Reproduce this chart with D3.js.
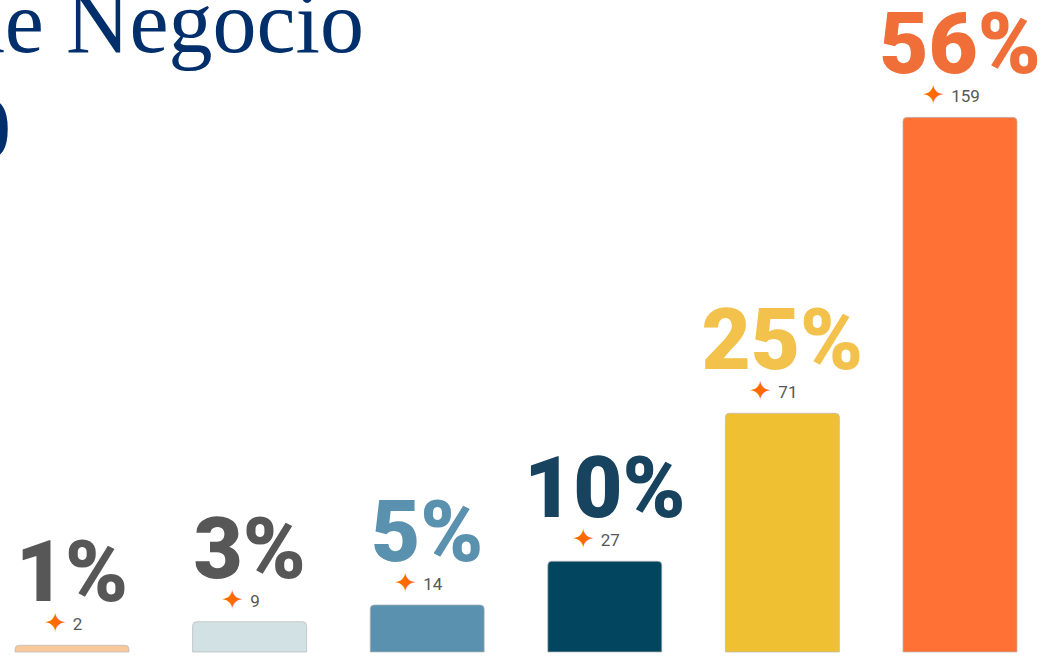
<!DOCTYPE html>
<html>
<head>
<meta charset="utf-8">
<script src="https://cdn.jsdelivr.net/npm/d3@7/dist/d3.min.js"></script>
<style>
  html, body { margin: 0; padding: 0; background: #ffffff; }
  svg { display: block; }
</style>
</head>
<body>
<svg id="chart" width="1047" height="660"></svg>
<script>
// ---- data ----
const categories = ["Cat 1", "Cat 2", "Cat 3", "Cat 4", "Cat 5", "Cat 6"];
const counts = [2, 9, 14, 27, 71, 159];
const percentLabels = ["1%", "3%", "5%", "10%", "25%", "56%"];
const barColors = ["#F9C99C", "#D1E1E4", "#5A91AE", "#02455F", "#F0C033", "#FF7134"];
const labelColors = ["#575757", "#575757", "#5A91AE", "#17435F", "#F2C24C", "#F06F39"];
const titleLine1 = "Modelo de Negocio";
const titleLine2 = "2020";

const W = 1047, H = 660;
const svg = d3.select("#chart");

const x = d3.scaleBand().domain(categories).range([15, 1017]).paddingInner(0.358).paddingOuter(0);
const y = d3.scaleLinear().domain([0, 160]).range([652, 114]);

// title (partially off-canvas)
svg.append("text")
  .attr("x", 364).attr("y", 52)
  .attr("text-anchor", "end")
  .attr("font-family", "'Liberation Serif', serif")
  .attr("font-size", 88)
  .attr("fill", "#002F6C")
  .text(titleLine1);

svg.append("text")
  .attr("x", 11).attr("y", 157)
  .attr("text-anchor", "end")
  .attr("font-family", "'Liberation Serif', serif")
  .attr("font-weight", 700)
  .attr("font-size", 86)
  .attr("fill", "#002F6C")
  .text(titleLine2);

const data = categories.map((c, i) => ({ c, v: counts[i], p: percentLabels[i], fill: barColors[i], lc: labelColors[i] }));

function topRounded(x0, y0, w, h, r) {
  r = Math.min(r, h, w / 2);
  return `M${x0},${y0 + h}V${y0 + r}Q${x0},${y0} ${x0 + r},${y0}H${x0 + w - r}Q${x0 + w},${y0} ${x0 + w},${y0 + r}V${y0 + h}Z`;
}

const g = svg.append("g");

g.selectAll("path.bar").data(data).enter().append("path")
  .attr("class", "bar")
  .attr("d", d => topRounded(x(d.c), y(d.v), x.bandwidth(), y(0) - y(d.v), 4))
  .attr("fill", d => d.fill)
  .attr("stroke", "#b8b8b8")
  .attr("stroke-opacity", 0.7)
  .attr("stroke-width", 1);

// percent labels
g.selectAll("text.pct").data(data).enter().append("text")
  .attr("class", "pct")
  .attr("x", d => x(d.c) + x.bandwidth() / 2)
  .attr("y", d => y(d.v) - 44)
  .attr("text-anchor", "middle")
  .attr("font-family", "Roboto, sans-serif")
  .attr("font-weight", 900)
  .attr("font-size", 85)
  .attr("fill", d => d.lc)
  .text(d => d.p);

// count labels with star
const cl = g.selectAll("text.cnt").data(data).enter().append("text")
  .attr("class", "cnt")
  .attr("x", d => x(d.c) + x.bandwidth() / 2 - 9)
  .attr("y", d => y(d.v) - 15)
  .attr("text-anchor", "middle")
  .attr("font-family", "Roboto, sans-serif")
  .attr("font-size", 17);
cl.append("tspan").attr("fill", "#FF6A00").attr("font-size", 27).attr("dy", 2).text("\u2726");
cl.append("tspan").attr("fill", "#575757").attr("dx", 6).attr("dy", -2).text(d => d.v);
</script>
</body>
</html>
